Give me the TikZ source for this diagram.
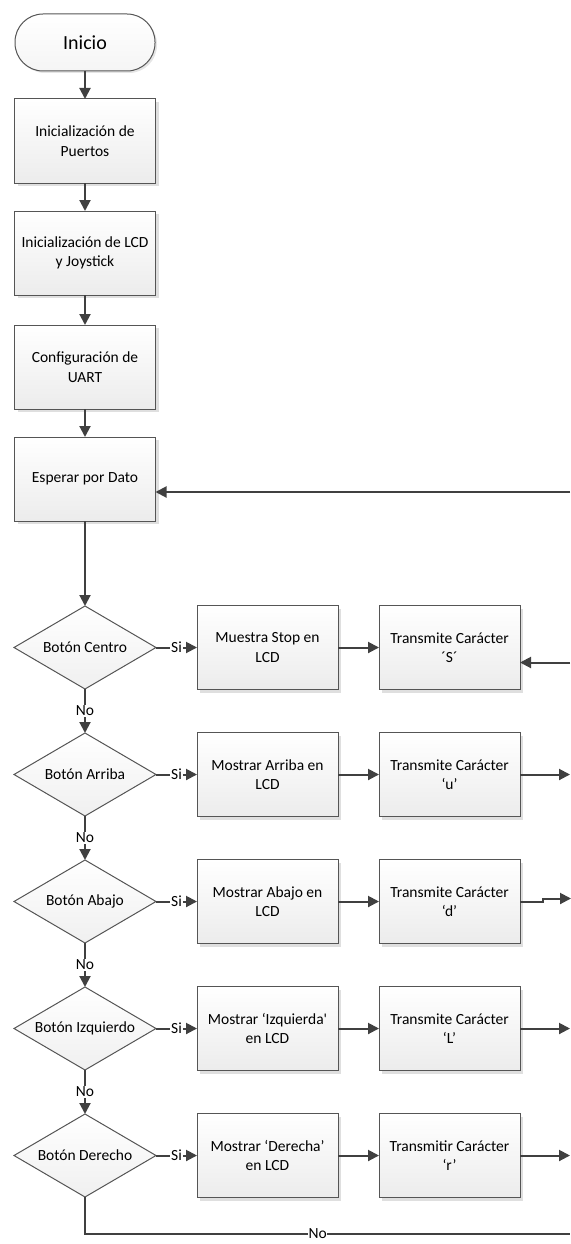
\documentclass[tikz,border=0pt]{standalone}
\usepackage{fontspec}
\setmainfont{Carlito}
\usepackage{xcolor}
\usepackage{tikz}
\usetikzlibrary{shapes,arrows.meta,shadows}
\usetikzlibrary{positioning}
\definecolor{linegray}{RGB}{64,64,64}
\definecolor{boxgray}{RGB}{85,85,85}
\tikzstyle{block} = [rectangle, draw=boxgray, line width=1pt, top color=white, bottom color=gray!15,
    align=center, inner sep=2pt, outer sep=0pt, minimum height=84pt, minimum width=141pt,
    drop shadow={shadow xshift=3pt, shadow yshift=-3pt, fill=gray!25, opacity=1}]
\tikzstyle{decision} = [diamond, draw=boxgray, line width=1pt, top color=white, bottom color=gray!12,
    aspect=1.7, inner sep=0pt, outer sep=0pt, minimum width=142pt, minimum height=83pt]
\tikzstyle{startstop} = [rectangle, rounded corners=28pt, draw=boxgray, line width=1pt,
    top color=white, bottom color=gray!8, minimum width=140pt, minimum height=57pt, outer sep=0pt,
    font=\fontsize{20}{24}\selectfont,
    drop shadow={shadow xshift=2pt, shadow yshift=-2pt, fill=gray!20, opacity=1}]
\tikzstyle{line} = [draw=linegray, line width=2pt, -{Triangle[length=11pt,width=11pt]}]
\tikzstyle{plain} = [draw=linegray, line width=2pt]
\tikzstyle{lbl} = [fill=white, inner sep=1pt]

\begin{document}
\begin{tikzpicture}[x=1pt, y=-1pt, font=\fontsize{15.5}{19.5}\selectfont]
    \useasboundingbox (0,0) rectangle (570,1244);
    % Place nodes
    \node [startstop] (ini) at (85,42.5) {Inicio};
    \node [block, below=28pt of ini] (ports) {Inicialización de\\ Puertos};
    \node [block, below=28pt of ports] (lcd) {Inicialización de LCD\\ y Joystick};
    \node [block, below=30pt of lcd] (uart) {Configuración de\\ UART};
    \node [block, below=28pt of uart] (wait) {Esperar por Dato};

    \node [decision, below=85pt of wait] (d1) {Botón Centro};
    \node [block, right=41pt of d1] (m1) {Muestra Stop en\\ LCD};
    \node [block, right=41pt of m1] (t1) {Transmite Carácter\\ ´S´};

    \node [decision, below=44pt of d1] (d2) {Botón Arriba};
    \node [block, right=41pt of d2] (m2) {Mostrar Arriba en\\ LCD};
    \node [block, right=41pt of m2] (t2) {Transmite Carácter\\ ‘u’};

    \node [decision, below=44pt of d2] (d3) {Botón Abajo};
    \node [block, right=41pt of d3] (m3) {Mostrar Abajo en\\ LCD};
    \node [block, right=41pt of m3] (t3) {Transmite Carácter\\ ‘d’};

    \node [decision, below=44pt of d3] (d4) {Botón Izquierdo};
    \node [block, right=41pt of d4] (m4) {Mostrar ‘Izquierda\textquotesingle\\ en LCD};
    \node [block, right=41pt of m4] (t4) {Transmite Carácter\\ ‘L’};

    \node [decision, below=44pt of d4] (d5) {Botón Derecho};
    \node [block, right=41pt of d5] (m5) {Mostrar ‘Derecha’\\ en LCD};
    \node [block, right=41pt of m5] (t5) {Transmitir Carácter\\ ‘r’};

    \coordinate (edge) at (570,0);
    \coordinate (bot) at (570,1234);
    \coordinate (win) at ([yshift=-13pt]wait.east);
    \coordinate (sin) at ([yshift=-15pt]t1.east);
    % Draw edges
    \path [line] (ini) -- (ports);
    \path [line] (ports) -- (lcd);
    \path [line] (lcd) -- (uart);
    \path [line] (uart) -- (wait);
    \path [line] (wait) -- (d1);
    \path [line] (win -| edge) -- (win);
    \path [line] (sin -| edge) -- (sin);

    \path [line] (d1) -- node[lbl] {Si} (m1);
    \path [line] (d2) -- node[lbl] {Si} (m2);
    \path [line] (d3) -- node[lbl] {Si} (m3);
    \path [line] (d4) -- node[lbl] {Si} (m4);
    \path [line] (d5) -- node[lbl] {Si} (m5);
    \path [line] (m1) -- (t1);
    \path [line] (m2) -- (t2);
    \path [line] (m3) -- (t3);
    \path [line] (m4) -- (t4);
    \path [line] (m5) -- (t5);

    \path [line] (t2.east) -- (t2.east -| edge);
    \path [line] (t3.east) -- ++(23pt,0) -- ++(0,3pt) -- ++(28pt,0);
    \path [line] (t4.east) -- (t4.east -| edge);
    \path [line] (t5.east) -- (t5.east -| edge);

    \path [line] (d1) -- node[lbl] {No} (d2);
    \path [line] (d2) -- node[lbl] {No} (d3);
    \path [line] (d3) -- node[lbl] {No} (d4);
    \path [line] (d4) -- node[lbl] {No} (d5);
    \path [plain] (d5.south) |- node[lbl, pos=0.74, inner sep=0.5pt] {No} (bot);

\end{tikzpicture}
\end{document}
